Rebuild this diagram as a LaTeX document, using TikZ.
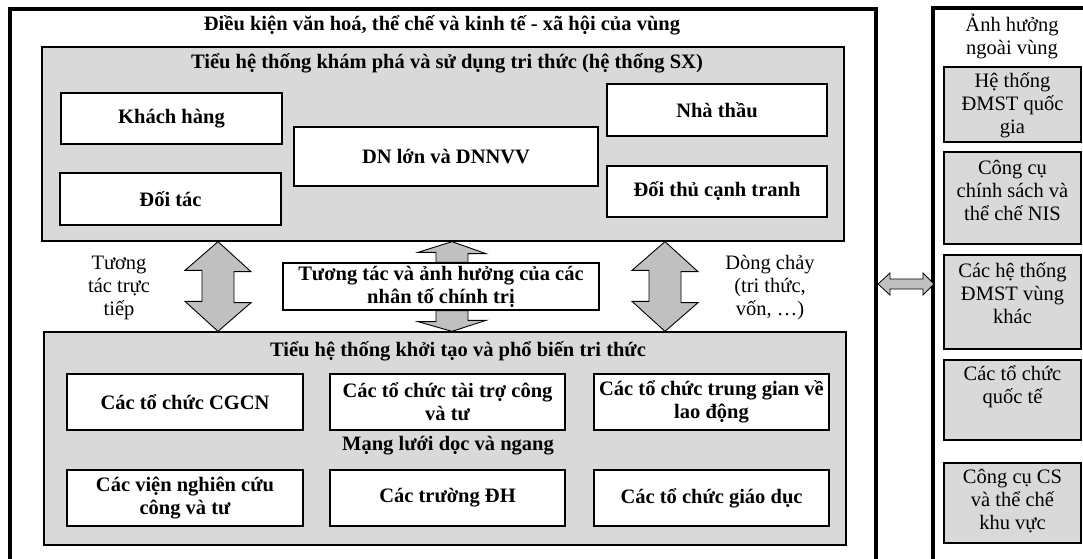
\documentclass[tikz,border=0pt]{standalone}
\usepackage{fontspec}
\setmainfont{Liberation Serif}
\newcommand\diagfont{\fontsize{20.5}{23}\selectfont}
\definecolor{boxgray}{HTML}{D9D9D9}
\definecolor{arrowgray}{HTML}{C0C0C0}
\begin{document}
\begin{tikzpicture}[x=1pt,y=-1pt,
  frame/.style={draw, line width=3.6pt},
  gsys/.style={draw, fill=boxgray, line width=1.3pt, inner sep=0pt},
  wbox/.style={draw, fill=white, line width=1.3pt, font=\diagfont\bfseries, align=center, inner sep=0pt},
  gbox/.style={draw, fill=boxgray, line width=1.2pt, inner sep=0pt},
  plain/.style={font=\diagfont, align=center, inner sep=0pt},
  btitle/.style={font=\diagfont\bfseries, align=center, inner sep=0pt},
  blockarrow/.style={draw, fill=arrowgray, line width=0.9pt, line join=miter},
]
\useasboundingbox (0,0) rectangle (1083,558);
\clip (0,0) rectangle (1083,558);

% outer frames
\draw[frame] (10,9) rectangle (876,590);
\draw[frame] (933,8) rectangle (1100,590);

\node[btitle] (maintitle) at (442,25) {Điều kiện văn hoá, thể chế và kinh tế - xã hội của vùng};

% top subsystem
\node[gsys, minimum width=802pt, minimum height=194pt] (topsys) at (443,144) {};
\node[btitle] (toptitle) at (447,63) {Tiểu hệ thống khám phá và sử dụng tri thức (hệ thống SX)};
\node[wbox, minimum width=221pt, minimum height=51pt] (kh) at (171.5,118.5) {Khách hàng};
\node[wbox, minimum width=221pt, minimum height=52pt] (dt) at (170.5,199) {Đối tác};
\node[wbox, minimum width=304pt, minimum height=59pt] (dn) at (446,156.5) {DN lớn và DNNVV};
\node[wbox, minimum width=220pt, minimum height=52pt] (nt) at (717,110) {Nhà thầu};
\node[wbox, minimum width=220pt, minimum height=51pt] (dth) at (717,191.5) {Đối thủ cạnh tranh};

% bottom subsystem
\node[gsys, minimum width=802pt, minimum height=213pt] (botsys) at (445,438.5) {};
\node[btitle] (bottitle) at (458,351) {Tiểu hệ thống khởi tạo và phổ biến tri thức};
\node[wbox, minimum width=236pt, minimum height=56pt] (cgcn) at (185,402) {Các tổ chức CGCN};
\node[wbox, minimum width=235pt, minimum height=56pt] (taitro) at (447.5,402) {Các tổ chức tài trợ công\\và tư};
\node[wbox, minimum width=235pt, minimum height=56pt] (trunggian) at (711.5,402) {Các tổ chức trung gian về\\lao động};
\node[btitle] (mangluoi) at (448,446) {Mạng lưới dọc và ngang};
\node[wbox, minimum width=236pt, minimum height=56pt] (vien) at (185,498) {Các viện nghiên cứu\\công và tư};
\node[wbox, minimum width=235pt, minimum height=56pt] (dh) at (447.5,498) {Các trường ĐH};
\node[wbox, minimum width=235pt, minimum height=56pt] (giaoduc) at (711.5,498) {Các tổ chức giáo dục};

% political box
\node[wbox, minimum width=316pt, minimum height=47pt] (pol) at (441,286.5) {Tương tác và ảnh hưởng của các\\nhân tố chính trị};

% side labels
\node[plain] (lbl1) at (119,288) {Tương\\tác trực\\tiếp};
\node[plain] (lbl2) at (770,288) {Dòng chảy\\(tri thức,\\vốn, …)};

% block arrows
\coordinate (la) at (218,0);
\coordinate (ra) at (665,0);
\coordinate (ca) at (452,0);
\draw[blockarrow] (la |- topsys.south) -- ++(33,30) -- ++(-17,0) -- ++(0,31) -- ++(17,0)
  -- (la |- botsys.north) -- ++(-33,-30) -- ++(17,0) -- ++(0,-31) -- ++(-17,0) -- cycle;
\draw[blockarrow] (ra |- topsys.south) -- ++(33,30) -- ++(-17,0) -- ++(0,31) -- ++(17,0)
  -- (ra |- botsys.north) -- ++(-33,-30) -- ++(17,0) -- ++(0,-31) -- ++(-17,0) -- cycle;
\draw[blockarrow] (ca |- topsys.south) -- ++(34,12) -- ++(-18,0) -- (pol.north -| 468,0)
  -- (pol.north -| 436,0) -- ++(0,-10) -- ++(-18,0) -- cycle;
\draw[blockarrow] (pol.south -| 436,0) -- ++(0,11) -- ++(-18,0) -- (ca |- botsys.north)
  -- ++(34,-11) -- ++(-18,0) -- (pol.south -| 468,0) -- cycle;

% right column
\node[plain] (outside) at (1012,36) {Ảnh hưởng\\ngoài vùng};
\node[gbox, minimum width=137pt, minimum height=75pt] (b1) at (1012.5,104.5) {};
\node[gbox, minimum width=137pt, minimum height=92pt] (b2) at (1012.5,198) {};
\node[gbox, minimum width=137pt, minimum height=94pt] (b3) at (1012.5,302) {};
\node[gbox, minimum width=137pt, minimum height=80pt] (b4) at (1012.5,400) {};
\node[gbox, minimum width=137pt, minimum height=80pt] (b5) at (1012.5,503) {};
\node[plain] (t1) at (1012.5,105) {Hệ thống\\ĐMST quốc\\gia};
\node[plain] (t2) at (1012.5,190) {Công cụ\\chính sách và\\thể chế NIS};
\node[plain] (t3) at (1012.5,293) {Các hệ thống\\ĐMST vùng\\khác};
\node[plain] (t4) at (1012.5,386.5) {Các tổ chức\\quốc tế};
\node[plain] (t5) at (1012.5,501) {Công cụ CS\\và thể chế\\khu vực};

% horizontal double arrow between region and outside
\coordinate (hl) at (878,284);
\coordinate (hr) at (934,284);
\draw[blockarrow, line width=0.8pt] (hl) -- ++(12,-11) -- ++(0,6) -- ++(33,0) -- ++(0,-6) -- (hr)
  -- ++(-11,11) -- ++(0,-6) -- ++(-33,0) -- ++(0,6) -- cycle;
\end{tikzpicture}
\end{document}
